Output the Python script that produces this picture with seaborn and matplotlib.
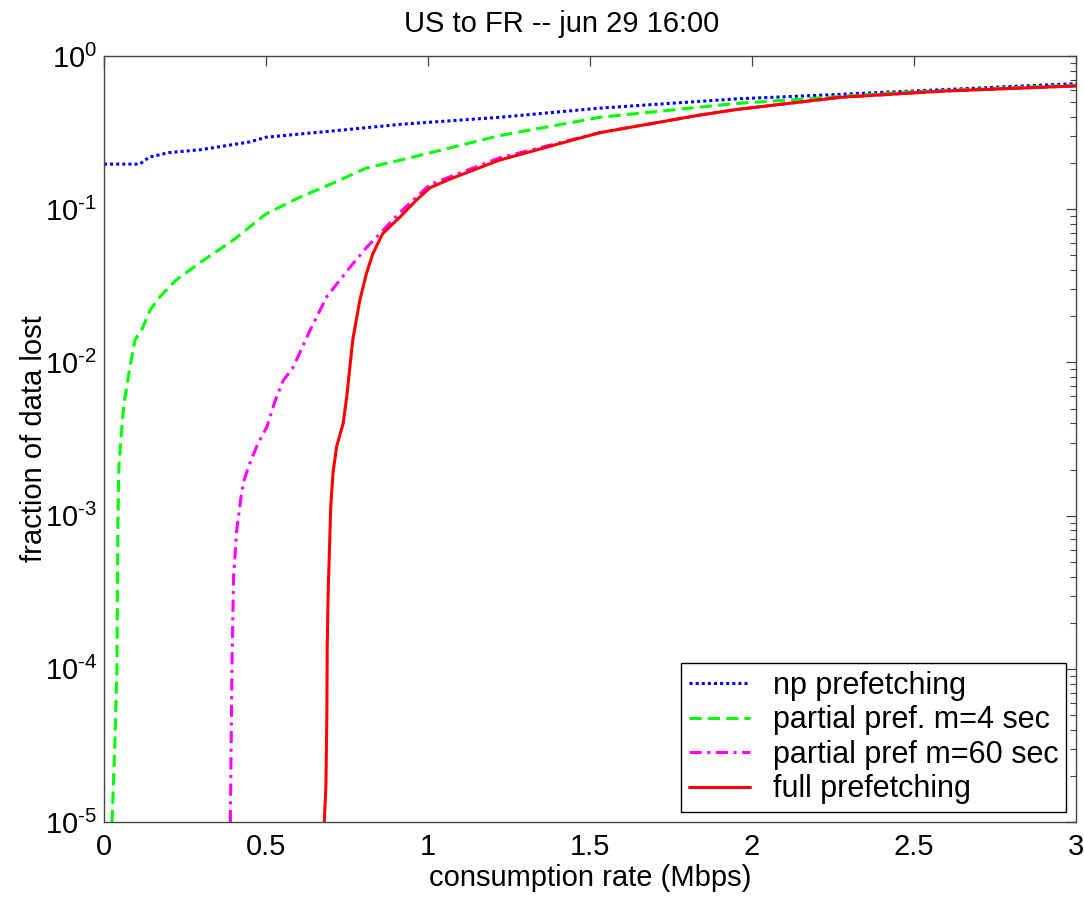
import numpy as np
import pandas as pd
import matplotlib
matplotlib.use("Agg")
import matplotlib.pyplot as plt
import matplotlib.ticker as mtick
import seaborn as sns

# Values (x in Mbps, y = fraction of data lost)
np_x = [0, 0.11, 0.14, 0.2, 0.3, 0.45, 0.5, 0.6, 0.75, 0.92, 1.22, 1.53, 1.95, 2.27, 2.48, 3.0]
np_y = [0.197, 0.197, 0.219, 0.234, 0.245, 0.275, 0.295, 0.309, 0.331, 0.359, 0.398, 0.457,
        0.525, 0.562, 0.589, 0.661]

m4_x = [0.025, 0.034, 0.040, 0.043, 0.046, 0.052, 0.060, 0.065, 0.080, 0.096, 0.116, 0.142,
        0.173, 0.224, 0.296, 0.40, 0.50, 0.605, 0.707, 0.81, 0.914, 1.22, 1.53, 1.95, 2.48, 3.0]
m4_y = [1e-5, 3.47e-5, 1e-4, 8.9e-4, 2.09e-3, 3.09e-3, 5.0e-3, 5.9e-3, 9.3e-3, 1.41e-2,
        1.62e-2, 2.19e-2, 2.69e-2, 3.47e-2, 4.47e-2, 6.31e-2, 9.33e-2, 0.120, 0.148, 0.186,
        0.209, 0.302, 0.398, 0.490, 0.582, 0.646]

m60_x = [0.39, 0.395, 0.40, 0.41, 0.423, 0.432, 0.45, 0.475, 0.503, 0.528, 0.553, 0.584, 0.636,
         0.688, 0.759, 0.81, 0.86, 0.914, 1.006, 1.22, 1.53, 1.84, 1.95, 2.27, 2.58, 3.0]
m60_y = [1e-5, 1e-4, 3.98e-4, 8.13e-4, 1.32e-3, 1.70e-3, 2.19e-3, 2.95e-3, 3.80e-3, 5.6e-3,
         7.6e-3, 9.3e-3, 1.62e-2, 2.69e-2, 4.17e-2, 5.62e-2, 7.24e-2, 9.55e-2, 0.145, 0.216,
         0.316, 0.412, 0.447, 0.537, 0.589, 0.638]

full_x = [0.68, 0.685, 0.688, 0.689, 0.692, 0.695, 0.70, 0.707, 0.718, 0.738, 0.749, 0.768,
          0.79, 0.81, 0.83, 0.86, 0.914, 0.965, 1.006, 1.07, 1.22, 1.53, 1.84, 1.95, 2.27,
          2.58, 3.0]
full_y = [1e-5, 1.70e-5, 5.13e-5, 1.38e-4, 3.16e-4, 5.13e-4, 1.15e-3, 1.91e-3, 2.82e-3,
          3.98e-3, 5.89e-3, 1.41e-2, 2.57e-2, 3.80e-2, 5.13e-2, 6.92e-2, 8.91e-2, 0.115, 0.138,
          0.158, 0.209, 0.316, 0.412, 0.447, 0.537, 0.589, 0.638]

labels = ["np prefetching", "partial pref. m=4 sec", "partial pref m=60 sec", "full prefetching"]
colors = ["#0000ff", "#00ff00", "#ff00ff", "#ff0000"]
dash_styles = [(1.0, 1.0), (4.0, 2.0), (4.0, 1.8, 1.0, 1.8), ""]

frames = []
for lab, xs, ys in zip(labels, [np_x, m4_x, m60_x, full_x], [np_y, m4_y, m60_y, full_y]):
    frames.append(pd.DataFrame({"rate": xs, "loss": ys, "series": lab}))
df = pd.concat(frames, ignore_index=True)

sns.set_theme(style="white")
plt.rcParams["font.family"] = ["Liberation Sans", "DejaVu Sans"]
plt.rcParams["mathtext.fontset"] = "custom"
plt.rcParams["mathtext.rm"] = "Liberation Sans"
plt.rcParams["mathtext.it"] = "Liberation Sans"
plt.rcParams["axes.unicode_minus"] = False
plt.rcParams["text.color"] = "black"
plt.rcParams["axes.labelcolor"] = "black"

FS = 21

fig = plt.figure(figsize=(10.84, 8.98), dpi=100)
ax = fig.add_axes([0.0959, 0.0846, 0.8967, 0.853])

sns.lineplot(data=df, x="rate", y="loss", hue="series", style="series",
             hue_order=labels, style_order=labels,
             palette=dict(zip(labels, colors)), dashes=dict(zip(labels, dash_styles)),
             estimator=None, sort=False, linewidth=2.2, legend=False, ax=ax)

ax.set_yscale("log")
ax.set_xlim(0, 3)
ax.set_ylim(1e-5, 1)
ax.xaxis.set_major_locator(mtick.MultipleLocator(0.5))
ax.xaxis.set_major_formatter(mtick.FuncFormatter(lambda v, p: f"{v:g}"))
ax.yaxis.set_major_locator(mtick.LogLocator(base=10, numticks=10))
ax.yaxis.set_major_formatter(mtick.FuncFormatter(
    lambda v, p: r"$\mathregular{10^{\text{%s}}}$" % f"{int(round(np.log10(v)))}"))
ax.yaxis.set_minor_locator(mtick.LogLocator(base=10, subs=np.arange(2, 10), numticks=20))
ax.yaxis.set_minor_formatter(mtick.NullFormatter())

for s in ax.spines.values():
    s.set_color("#444444")
    s.set_linewidth(1.0)
ax.tick_params(which="both", direction="in", top=True, right=True, colors="#444444",
               labelcolor="black", labelsize=FS)
ax.tick_params(which="major", length=7, width=0.9)
ax.tick_params(axis="x", which="major", pad=8)
ax.tick_params(axis="y", which="major", pad=5)
ax.tick_params(which="minor", length=4.5, width=0.8)

ax.set_title("US to FR -- jun 29 16:00", fontsize=FS, pad=17, x=0.471)
ax.set_xlabel("consumption rate (Mbps)", fontsize=FS, labelpad=2)
ax.set_ylabel("fraction of data lost", fontsize=FS, labelpad=-2)

leg = ax.legend(ax.lines, labels, loc="lower right", bbox_to_anchor=(0.99, 0.013),
                borderaxespad=0, fontsize=22, frameon=True, fancybox=False,
                edgecolor="black", framealpha=1, handlelength=2.0, labelspacing=0.15,
                borderpad=0.25, handletextpad=0.75)
leg.get_frame().set_linewidth(1.0)

fig.savefig("out.png", dpi=100, facecolor="white")
